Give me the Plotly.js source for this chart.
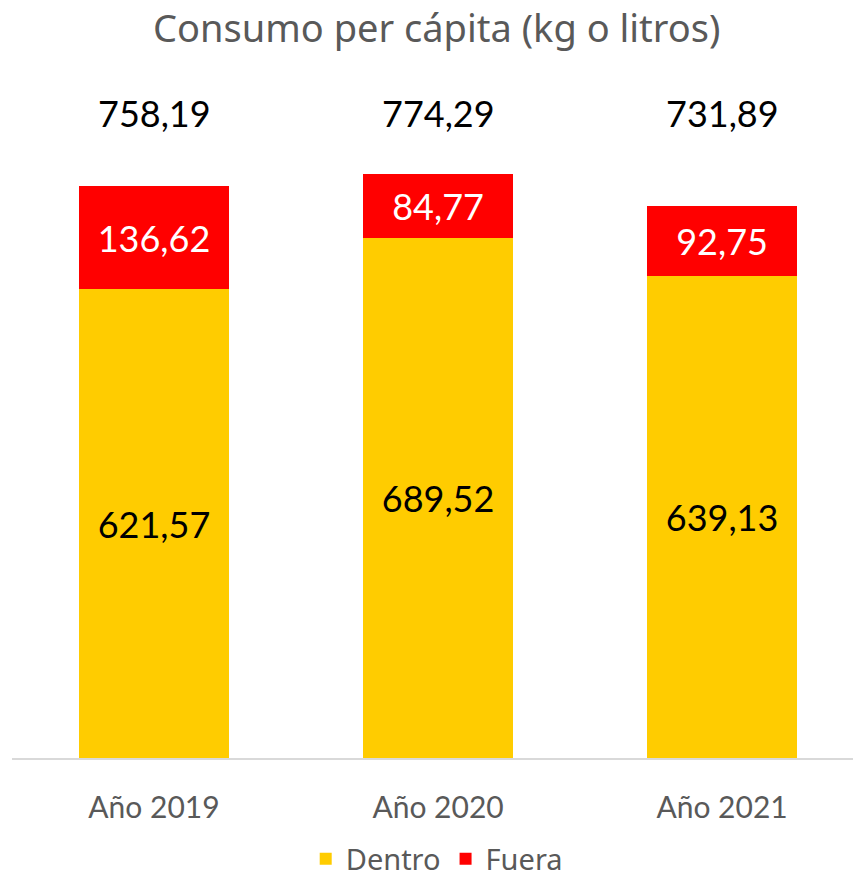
<!DOCTYPE html>
<html>
<head>
<meta charset="utf-8">
<script src="https://cdn.plot.ly/plotly-3.0.1.min.js"></script>
<style>html,body{margin:0;padding:0;background:#fff;}#chart{width:853px;height:885px;}</style>
</head>
<body>
<div id="chart"></div>
<script>
const categories = ["Año 2019", "Año 2020", "Año 2021"];
const dentro = [621.57, 689.52, 639.13];
const fuera = [136.62, 84.77, 92.75];
const totals = [758.19, 774.29, 731.89];

const fmt = v => v.toFixed(2).replace('.', ',');
const numFont = "Lato, 'Open Sans', sans-serif";

const traces = [
  {
    type: 'bar', name: 'Dentro', x: categories, y: dentro,
    marker: {color: '#FFCC00'},
    text: dentro.map(fmt), textposition: 'inside', insidetextanchor: 'middle',
    textangle: 0, constraintext: 'none',
    textfont: {family: numFont, size: 36, color: '#000000'},
    hoverinfo: 'none'
  },
  {
    type: 'bar', name: 'Fuera', x: categories, y: fuera,
    marker: {color: '#FF0000'},
    text: fuera.map(fmt), textposition: 'inside', insidetextanchor: 'middle',
    textangle: 0, constraintext: 'none',
    textfont: {family: numFont, size: 36, color: '#FFFFFF'},
    hoverinfo: 'none'
  }
];

const annotations = categories.map((c, i) => ({
  x: c, xref: 'x', y: 0.95, yref: 'paper', yanchor: 'middle',
  text: fmt(totals[i]), showarrow: false,
  font: {family: numFont, size: 36, color: '#000000'}
}));

const layout = {
  width: 853, height: 885,
  margin: {l: 12, r: 0, t: 79, b: 127, autoexpand: false},
  paper_bgcolor: '#ffffff', plot_bgcolor: '#ffffff',
  barmode: 'stack', bargap: 0.472,
  title: {text: 'Consumo per cápita (kg o litros)', x: 0.512, xanchor: 'center', y: 0.968, yanchor: 'middle', automargin: false,
          font: {family: "'Noto Sans', 'Open Sans', sans-serif", size: 38, color: '#595959'}},
  xaxis: {
    type: 'category', range: [-0.5, 2.461], automargin: false,
    showline: true, linecolor: '#d9d9d9', linewidth: 2,
    ticks: 'outside', ticklen: 22, tickcolor: 'rgba(0,0,0,0)',
    tickfont: {family: numFont, size: 30, color: '#595959'},
    showgrid: false, zeroline: false, fixedrange: true
  },
  yaxis: {
    range: [0, 900], visible: false, showgrid: false, zeroline: false, fixedrange: true
  },
  showlegend: true,
  legend: {
    orientation: 'h', x: 0.505, xanchor: 'center', y: -0.186, yanchor: 'bottom',
    font: {family: "'Noto Sans', 'Open Sans', sans-serif", size: 29, color: '#595959'},
    itemsizing: 'constant', traceorder: 'normal'
  },
  annotations: annotations
};

Plotly.newPlot('chart', traces, layout, {displayModeBar: false, staticPlot: true});
</script>
</body>
</html>
